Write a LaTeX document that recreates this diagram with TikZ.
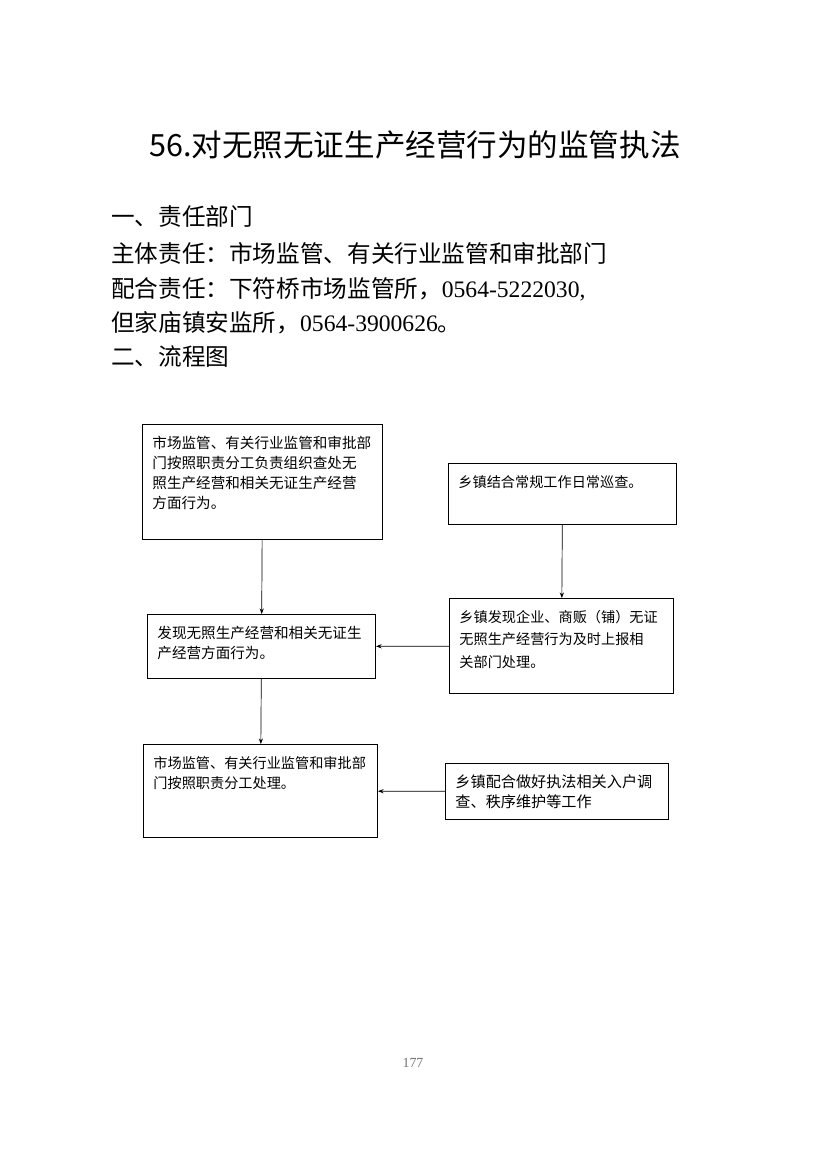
\documentclass[tikz,border=0pt]{standalone}
\usepackage{fontspec}
\setmainfont{Noto Sans CJK SC}
\newfontfamily\numfont{Liberation Serif}
\usetikzlibrary{arrows.meta, positioning}

\begin{document}
\begin{tikzpicture}[
          x=0.72pt, y=-0.72pt,
          box/.style={draw, line width=0.7pt, anchor=north west, align=left,
                      font=\fontsize{10.2pt}{14.6pt}\selectfont,
                      inner xsep=7.2pt, inner ysep=4pt, text height=13pt},
          head/.style={anchor=west, inner sep=0pt, font=\fontsize{17pt}{20pt}\selectfont},
          arr/.style={-{Stealth[length=4pt, width=3pt]}, line width=0.5pt},
        ]
        \useasboundingbox (0,0) rectangle (828,1159);

        % title and heading lines
        \node[inner sep=0pt, font=\fontsize{22pt}{24pt}\selectfont] (title) at (415,145) {56.对无照无证生产经营行为的监管执法};
        \node[head] (dept)  at (111,217) {一、责任部门};
        \node[head] (main)  at (111,253) {主体责任：市场监管、有关行业监管和审批部门};
        \node[head] (coop)  at (111,289) {配合责任：下符桥市场监管所，{\numfont 0564-5222030,}};
        \node[head] (coop2) at (111,323) {但家庙镇安监所，{\numfont 0564-3900626}。};
        \node[head] (flow)  at (111,357) {二、流程图};

        % flow boxes
        \node[box, text width=158.4pt, text depth=61.8pt,
              font=\fontsize{10.5pt}{14.4pt}\selectfont] (check) at (142,424)
          {市场监管、有关行业监管和审批部\\门按照职责分工负责组织查处无\\照生产经营和相关无证生产经营\\方面行为。};
        \node[box, text width=149.8pt, text depth=22.9pt] (patrol) at (448,463)
          {乡镇结合常规工作日常巡查。};
        \node[box, text width=149.8pt, text depth=25.1pt,
              font=\fontsize{10.5pt}{14.6pt}\selectfont] (found) at (147,614)
          {发现无照生产经营和相关无证生\\产经营方面行为。};
        \node[box, text width=146.9pt, text depth=47.4pt,
              font=\fontsize{10.2pt}{16.2pt}\selectfont] (report) at (449,598)
          {乡镇发现企业、商贩（铺）无证\\无照生产经营行为及时上报相\\关部门处理。};
        \node[box, text width=154.1pt, text depth=46pt] (handle) at (143,744)
          {市场监管、有关行业监管和审批部\\门按照职责分工处理。};
        \node[box, text width=146.2pt, text depth=19.3pt,
              font=\fontsize{10.9pt}{14.6pt}\selectfont] (assist) at (445,763)
          {乡镇配合做好执法相关入户调\\查、秩序维护等工作};

        \draw[arr] (check)  -- (found);
        \draw[arr] (patrol) -- (report);
        \draw[arr] (report) -- (found);
        \draw[arr] (found)  -- (handle);
        \draw[arr] (assist) -- (handle);

        % page number
        \node[inner sep=0pt, text=black!55, font=\numfont\fontsize{10pt}{12pt}\selectfont] (page) at (413,1063) {177};
      \end{tikzpicture}
\end{document}
